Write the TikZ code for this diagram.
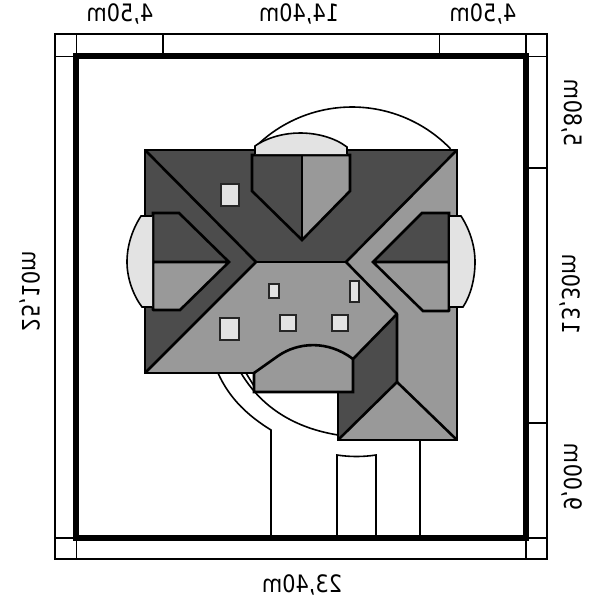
\documentclass[tikz,border=0pt]{standalone}
\usepackage{fontspec}
\setmainfont{DejaVu Sans}
\definecolor{roofdark}{gray}{0.30}
\definecolor{roofmid}{gray}{0.60}
\definecolor{rooflight}{gray}{0.89}
\newcommand{\mirrortext}[1]{\scalebox{-0.87}[1]{#1}}
\tikzset{
  thinline/.style={line width=1.7pt,draw=black},
  plotline/.style={line width=6pt,draw=black,line join=miter},
  sitecurve/.style={line width=1.6pt,draw=black},
  dark/.style={fill=roofdark},
  mid/.style={fill=roofmid},
  edge/.style={line width=2.6pt,draw=black,line join=miter,line cap=round},
  skylight/.style={fill=rooflight,draw=black!85,line width=2pt},
  dimh/.style={anchor=base,inner sep=0pt,font=\fontsize{24}{24}\selectfont},
  dimv/.style={anchor=base,inner sep=0pt,rotate=-90,font=\fontsize{24}{24}\selectfont},
}
\begin{document}
\begin{tikzpicture}[x=1pt,y=-1pt]
\useasboundingbox (0,0) rectangle (600,600);
\fill[white] (0,0) rectangle (600,600);

% dimension frame
\draw[thinline] (55,34) rectangle (547,559);
\draw[thinline] (76.5,34) -- (76.5,56) (163,34) -- (163,56) (439.5,34) -- (439.5,56) (526,34) -- (526,56);
\draw[thinline] (55,56.5) -- (76,56.5) (526,56.5) -- (547,56.5) (526,168) -- (547,168) (526,423) -- (547,423) (526,538) -- (547,538) (55,538) -- (76,538);
\draw[thinline] (76.5,538) -- (76.5,559) (526,538) -- (526,559);
\draw[plotline] (76,56) rectangle (526,538);

% site curves and paths
\draw[sitecurve] plot[domain=44:135,samples=50] ({352+137*cos(\x)},{244-137*sin(\x)});
\draw[sitecurve] (218,373) .. controls (230,400) and (250,417) .. (271,430) -- (271,538);
\draw[sitecurve] (241,373) .. controls (262,408) and (295,428) .. (338,435);
\draw[sitecurve] (246,373) -- (254,386);
\draw[sitecurve] (420,440) -- (420,538);
\draw[sitecurve] (337,538) -- (337,455) .. controls (350,457) and (363,457) .. (376,455) -- (376,538);

% roof faces
\fill[dark] (145,150) -- (457,150) -- (346,262) -- (256,262) -- cycle;
\fill[dark] (145,150) -- (256,262) -- (145,373) -- cycle;
\fill[mid] (256,262) -- (346,262) -- (397,314) -- (353,359) -- (353,392) -- (254,392) -- (254,373) -- (145,373) -- cycle;
\fill[mid] (457,150) -- (346,262) -- (397,314) -- (397,382) -- (338,440) -- (457,440) -- cycle;
\fill[dark] (397,314) -- (397,382) -- (338,440) -- (338,392) -- (353,392) -- (353,359) -- cycle;

% side and top dormers
\fill[dark] (252,155) -- (302,155) -- (302,240) -- (252,191) -- cycle;
\fill[mid] (302,155) -- (350,155) -- (350,191) -- (302,240) -- cycle;
\fill[dark] (153,213) -- (179,213) -- (229,262) -- (153,262) -- cycle;
\fill[mid] (153,262) -- (229,262) -- (180,310) -- (153,310) -- cycle;
\fill[dark] (449,213) -- (422,213) -- (373,262) -- (449,262) -- cycle;
\fill[mid] (449,262) -- (373,262) -- (423,311) -- (449,311) -- cycle;

% roof outlines
\draw[edge] (254,373) -- (145,373) -- (145,150) -- (457,150) -- (457,440) -- (338,440) -- (338,392);
\draw[edge] (145,150) -- (256,262) -- (145,373);
\draw[edge] (457,150) -- (346,262) -- (397,314);
\draw[edge] (256,262) -- (346,262);
\draw[edge] (397,314) -- (397,382) -- (338,440);
\draw[edge] (397,382) -- (457,440);
\draw[edge] (397,314) -- (353,359) -- (353,392) -- (254,392) -- (254,373);
\draw[edge] (254,373) -- (278,356) .. controls (298,342) and (328,340) .. (353,359);
\draw[edge] (302,155) -- (302,240);
\draw[edge] (252,155) -- (350,155) -- (350,191) -- (302,240) -- (252,191) -- cycle;
\draw[edge] (153,262) -- (229,262) (153,310) -- (153,213) -- (179,213) -- (229,262) -- (180,310) -- (153,310);
\draw[edge] (449,262) -- (373,262) (449,311) -- (449,213) -- (422,213) -- (373,262) -- (423,311) -- (449,311);

% balconies
\fill[rooflight] (255,154) -- (255,146) .. controls (268,137) and (285,133) .. (300,133) .. controls (318,133) and (335,138) .. (347,147) -- (347,154) -- cycle;
\draw[sitecurve] (255,154) -- (255,146) .. controls (268,137) and (285,133) .. (300,133) .. controls (318,133) and (335,138) .. (347,147) -- (347,154);
\fill[rooflight] (152,216) -- (141,216) .. controls (132,230) and (127,246) .. (127,262) .. controls (127,278) and (133,295) .. (142,307) -- (152,307) -- cycle;
\draw[sitecurve] (152,216) -- (141,216) .. controls (132,230) and (127,246) .. (127,262) .. controls (127,278) and (133,295) .. (142,307) -- (152,307);
\fill[rooflight] (450,216) -- (461,216) .. controls (470,230) and (475,246) .. (475,262) .. controls (475,278) and (471,295) .. (463,307) -- (450,307) -- cycle;
\draw[sitecurve] (450,216) -- (461,216) .. controls (470,230) and (475,246) .. (475,262) .. controls (475,278) and (471,295) .. (463,307) -- (450,307);

% skylights
\draw[skylight] (221,184) rectangle (239,206);
\draw[skylight] (269,284) rectangle (279,298);
\draw[skylight] (220,318) rectangle (239,340);
\draw[skylight] (280,315) rectangle (296,331);
\draw[skylight] (332,315) rectangle (348,331);
\draw[skylight] (350,281) rectangle (359,302);

% mirrored dimension labels
\node[dimh] (topa) at (120,21) {\mirrortext{4,50m}};
\node[dimh] (topb) at (299,21) {\mirrortext{14,40m}};
\node[dimh] (topc) at (483,21) {\mirrortext{4,50m}};
\node[dimh] (bottom) at (302,592) {\mirrortext{23,40m}};
\node[dimv] (left) at (22,291) {\mirrortext{25,10m}};
\node[dimv] (righta) at (564,113) {\mirrortext{5,80m}};
\node[dimv] (rightb) at (562,294) {\mirrortext{13,30m}};
\node[dimv] (rightc) at (564,477) {\mirrortext{9,00m}};
\end{tikzpicture}
\end{document}
